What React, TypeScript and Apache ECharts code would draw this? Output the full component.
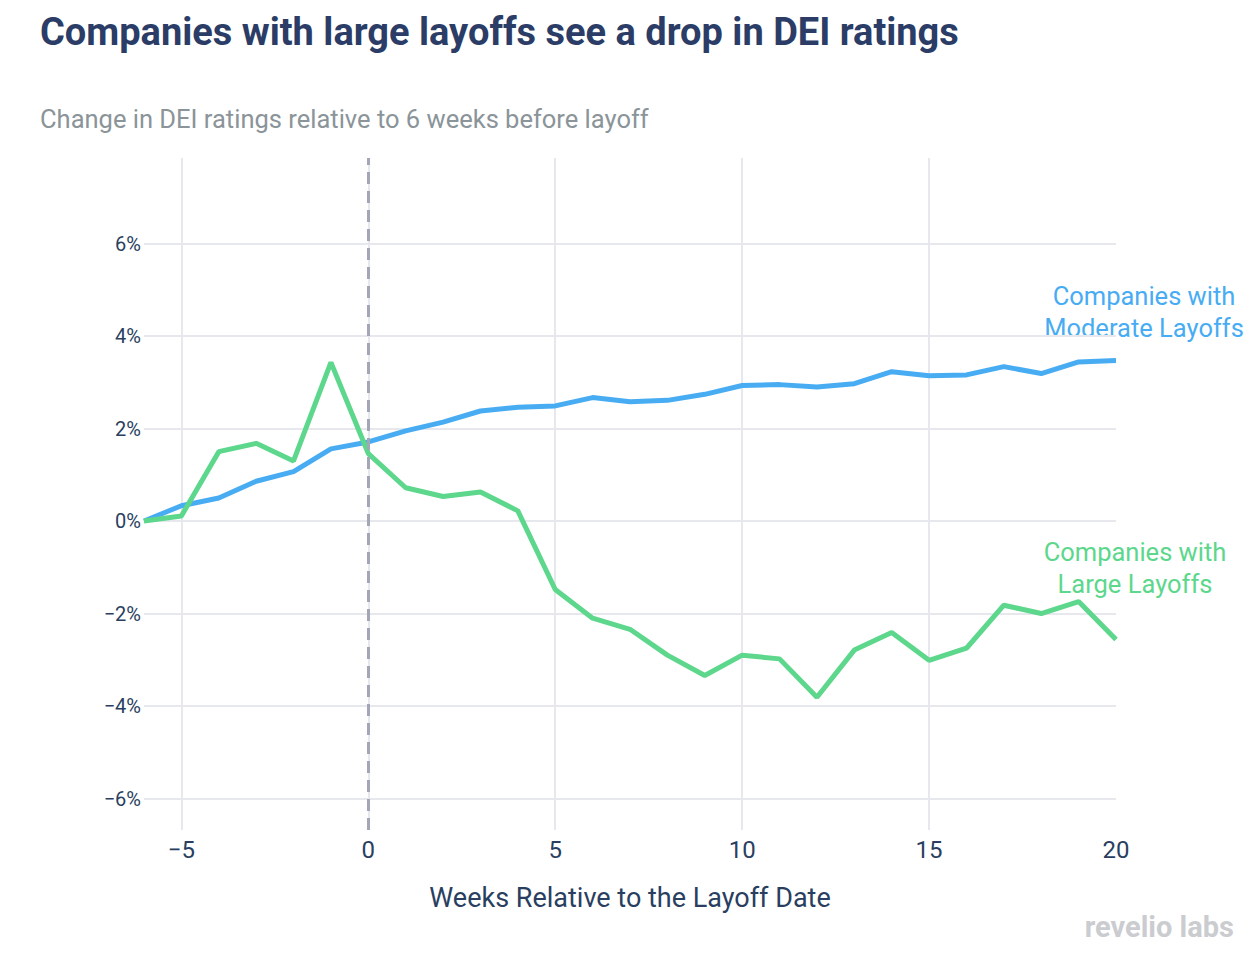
import React, { useEffect, useRef } from "react";
import * as echarts from "echarts";

const weeks = [-6, -5, -4, -3, -2, -1, 0, 1, 2, 3, 4, 5, 6, 7, 8, 9, 10, 11, 12, 13, 14, 15, 16, 17, 18, 19, 20];
const moderate = [0, 0.33, 0.5, 0.86, 1.07, 1.56, 1.71, 1.95, 2.14, 2.38, 2.46, 2.49, 2.67, 2.58, 2.61, 2.74, 2.93, 2.95, 2.9, 2.97, 3.23, 3.14, 3.16, 3.34, 3.19, 3.44, 3.47];
const large = [0, 0.11, 1.5, 1.68, 1.3, 3.43, 1.46, 0.72, 0.53, 0.63, 0.22, -1.48, -2.1, -2.34, -2.9, -3.34, -2.9, -2.98, -3.81, -2.79, -2.41, -3.01, -2.75, -1.82, -2.0, -1.74, -2.56];

const TITLE = "Companies with large layoffs see a drop in DEI ratings";
const SUBTITLE = "Change in DEI ratings relative to 6 weeks before layoff";
const X_TITLE = "Weeks Relative to the Layoff Date";
const MOD_LABEL = ["Companies with", "Moderate Layoffs"];
const LARGE_LABEL = ["Companies with", "Large Layoffs"];

const BLUE = "#48acf3";
const GREEN = "#5cd78c";
const NAVY = "#2a3f5f";
const FONT = "Roboto";

export default function App() {
  const ref = useRef<HTMLDivElement>(null);
  useEffect(() => {
    if (!ref.current) return;
    const chart = echarts.init(ref.current, null, { renderer: "svg" });
    const fmt = (v: number) => (v < 0 ? "\u2212" + Math.abs(v) : String(v));
    chart.setOption({
      animation: false,
      backgroundColor: "#ffffff",
      title: [
        {
          text: TITLE,
          left: 35,
          top: 8,
          textStyle: { fontFamily: FONT, fontSize: 38, fontWeight: "bold", color: "#2b3d66" },
        },
        {
          text: SUBTITLE,
          left: 35,
          top: 101,
          textStyle: { fontFamily: FONT, fontSize: 25.5, fontWeight: "normal", color: "#8a9499" },
        },
      ],
      grid: { left: 144, right: 138, top: 158, bottom: 130 },
      xAxis: {
        type: "value",
        min: -6,
        max: 20,
        splitNumber: 5,
        minInterval: 5,
        maxInterval: 5,
        name: X_TITLE,
        nameLocation: "middle",
        nameGap: 54,
        nameTextStyle: { fontFamily: FONT, fontSize: 27, color: NAVY },
        axisLine: { show: false },
        axisTick: { show: false },
        axisLabel: {
          fontFamily: FONT,
          fontSize: 24,
          color: NAVY,
          margin: 8,
          showMinLabel: false,
          formatter: (v: number) => fmt(v),
        },
        splitLine: { show: true, showMinLine: false, showMaxLine: false, lineStyle: { color: "#e6e8ee", width: 2 } },
      },
      yAxis: {
        type: "value",
        min: -6.68,
        max: 7.85,
        splitNumber: 7,
        minInterval: 2,
        maxInterval: 2,
        axisLine: { show: false },
        axisTick: { show: false },
        axisLabel: {
          fontFamily: FONT,
          fontSize: 20,
          color: NAVY,
          margin: 3,
          showMinLabel: false,
          showMaxLabel: false,
          formatter: (v: number) => fmt(v) + "%",
        },
        splitLine: { show: true, showMinLine: false, showMaxLine: false, lineStyle: { color: "#e6e8ee", width: 2 } },
      },
      series: [
        {
          type: "line",
          name: "Moderate",
          data: weeks.map((w, i) => [w, moderate[i]]),
          showSymbol: false,
          lineStyle: { color: BLUE, width: 5 },
          itemStyle: { color: BLUE },
          z: 3,
          markLine: {
            silent: true,
            symbol: "none",
            label: { show: false },
            lineStyle: { color: "#a2a6b6", width: 3, type: [12, 7] },
            data: [{ xAxis: 0 }],
          },
        },
        {
          type: "line",
          name: "Large",
          data: weeks.map((w, i) => [w, large[i]]),
          showSymbol: false,
          lineStyle: { color: GREEN, width: 5 },
          itemStyle: { color: GREEN },
          z: 4,
        },
      ],
      graphic: [
        {
          type: "text",
          x: 1144,
          y: 280,
          style: {
            text: MOD_LABEL.join("\n"),
            fill: BLUE,
            font: `25.5px ${FONT}`,
            lineHeight: 32,
            align: "center",
          },
        },
        {
          type: "text",
          x: 1135,
          y: 536,
          style: {
            text: LARGE_LABEL.join("\n"),
            fill: GREEN,
            font: `25.5px ${FONT}`,
            lineHeight: 32,
            align: "center",
          },
        },
        {
          type: "text",
          right: 20,
          top: 912,
          style: {
            text: "revelio labs",
            fill: "#cbcccf",
            font: `bold 29px ${FONT}`,
          },
        },
      ],
    });
    return () => chart.dispose();
  }, []);
  return <div ref={ref} style={{ position: "absolute", left: 0, top: 0, width: 1254, height: 960 }} />;
}
